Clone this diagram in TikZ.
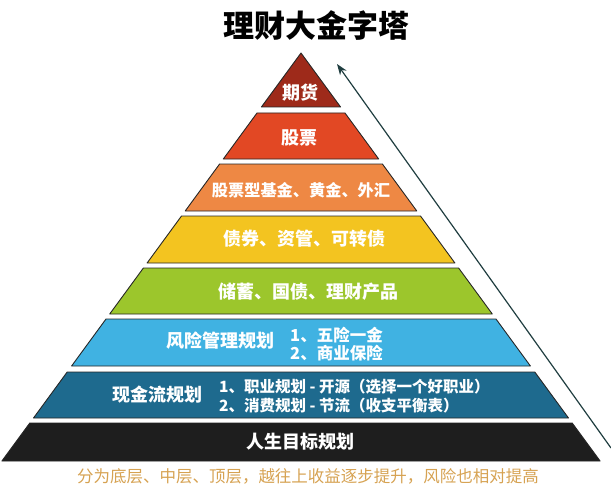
\documentclass[tikz,border=0pt]{standalone}
\usepackage{fontspec}
\setmainfont{Noto Sans CJK SC}
\usetikzlibrary{
  arrows.meta,
  positioning
}
\definecolor{futures}{RGB}{158,42,26}
\definecolor{stocks}{RGB}{226,72,36}
\definecolor{funds}{RGB}{238,136,68}
\definecolor{bonds}{RGB}{243,196,32}
\definecolor{savings}{RGB}{156,198,44}
\definecolor{riskplan}{RGB}{64,178,226}
\definecolor{cashplan}{RGB}{30,106,142}
\definecolor{lifegoal}{RGB}{30,30,30}
\definecolor{risearrow}{RGB}{32,62,64}
\definecolor{notegold}{RGB}{214,162,82}

\begin{document}
\begin{tikzpicture}[
  x=1pt, y=-1pt,
  tier/.style={draw=black!85, line width=0.9pt, line join=round},
  tiertext/.style={text=white, font=\bfseries\fontsize{18}{20}\selectfont,
                   inner sep=0pt},
  tieritems/.style={text=white, align=left, anchor=west, inner sep=0pt},
  >=Stealth
]
\useasboundingbox (0,0) rectangle (611,487);

\node[font=\bfseries\fontsize{31}{34}\selectfont] (title) at (316, 26)
  {理财大金字塔};

\filldraw[tier, fill=futures] (301,53) -- (340.6,107) -- (261.4,107) -- cycle;
\filldraw[tier, fill=stocks] (257.0,113) -- (345.0,113) -- (378.7,159)
  -- (223.3,159) -- cycle;
\filldraw[tier, fill=funds] (219.6,164) -- (382.4,164) -- (416.8,211)
  -- (185.2,211) -- cycle;
\filldraw[tier, fill=bonds] (181.5,216) -- (420.5,216) -- (454.9,263)
  -- (147.1,263) -- cycle;
\filldraw[tier, fill=savings] (143.4,268) -- (458.6,268) -- (492.3,314)
  -- (109.7,314) -- cycle;
\filldraw[tier, fill=riskplan] (106.0,319) -- (496.0,319) -- (530.4,366)
  -- (71.6,366) -- cycle;
\filldraw[tier, fill=cashplan] (67.2,372) -- (534.8,372) -- (568.5,418)
  -- (33.5,418) -- cycle;
\filldraw[tier, fill=lifegoal] (29.8,423) -- (572.2,423) -- (600.1,461)
  -- (1.9,461) -- cycle;

\node[tiertext] (futuresT) at (300, 93) {期货};
\node[tiertext] (stocksT) at (299, 138) {股票};
\node[tiertext, font=\bfseries\fontsize{16.2}{18}\selectfont] (fundsT)
  at (301, 190) {股票型基金、黄金、外汇};
\node[tiertext] (bondsT) at (304, 239) {债券、资管、可转债};
\node[tiertext] (savingsT) at (308, 292) {储蓄、国债、理财产品};
\node[tiertext] (riskT) at (220, 341) {风险管理规划};
\node[tieritems, font=\bfseries\fontsize{16.5}{18.5}\selectfont] (riskL)
  at (290, 344) {1、五险一金\\2、商业保险};
\node[tiertext] (cashT) at (157, 395) {现金流规划};
\node[tieritems, font=\bfseries\fontsize{15.5}{19}\selectfont] (cashL)
  at (219, 396) {1、职业规划 - 开源（选择一个好职业）\\
                 2、消费规划 - 节流（收支平衡表）};
\node[tiertext] (lifeT) at (300, 442) {人生目标规划};

\coordinate (riseTail) at (611, 448);
\coordinate (riseTip) at (337, 64);
\draw[-{Stealth[length=11pt, width=8pt]}, line width=1.2pt, risearrow]
  (riseTail) -- (riseTip);

\node[text=notegold, font=\fontsize{16.5}{18}\selectfont] (note)
  at (308, 476) {分为底层、中层、顶层，越往上收益逐步提升，风险也相对提高};

\end{tikzpicture}
\end{document}
